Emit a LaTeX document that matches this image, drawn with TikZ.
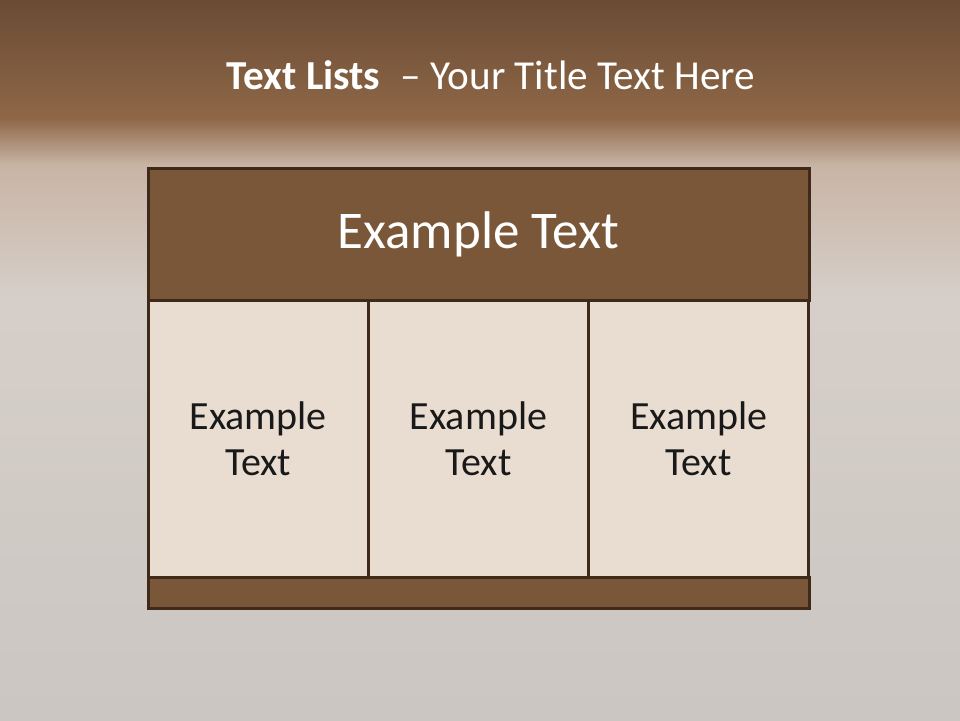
\documentclass[tikz,border=0pt]{standalone}
\usepackage{fontspec}
\setmainfont{Carlito}
\usepackage{tikz}
\usetikzlibrary{positioning}

\definecolor{bgtop}{HTML}{6A4B34}
\definecolor{bgband}{HTML}{8E6747}
\definecolor{bgfade}{HTML}{C8B4A5}
\definecolor{bgmid}{HTML}{D6CFC9}
\definecolor{bgbot}{HTML}{CBC6C2}
\definecolor{boxline}{HTML}{3F2A1A}
\definecolor{boxbrown}{HTML}{7A5739}
\definecolor{boxcream}{HTML}{E9DDD1}

\tikzset{
  panel/.style={draw=boxline, line width=3pt, inner sep=0pt, outer sep=0pt},
  headbox/.style={panel, fill=boxbrown, text=white, minimum width=661pt, minimum height=132pt},
  cellbox/.style={panel, fill=boxcream, text=black!90, minimum width=220.3pt, minimum height=277pt, align=center},
  footbox/.style={panel, fill=boxbrown, minimum width=661pt, minimum height=31pt}
}

\begin{document}
\begin{tikzpicture}[x=1pt,y=-1pt]
    \useasboundingbox (0,0) rectangle (960,720);

    % Background
    \shade[top color=bgtop, bottom color=bgband] (0,0) rectangle (960,118);
    \shade[top color=bgband, bottom color=bgfade] (0,118) rectangle (960,165);
    \shade[top color=bgfade, bottom color=bgmid] (0,165) rectangle (960,300);
    \shade[top color=bgmid, bottom color=bgbot] (0,300) rectangle (960,720);

    % Title
    \node[text=white, font=\fontsize{41.2}{48}\selectfont] (title) at (491,75)
        {\textbf{Text Lists}\enspace – Your Title Text Here};

    % Table
    \node[headbox, anchor=north west, font=\fontsize{53}{62}\selectfont] (header) at (148,168) {Example Text};
    \node[cellbox, anchor=north west, font=\fontsize{40}{46}\selectfont] (cellA) at (header.south west) {Example\\Text};
    \node[cellbox, right=0pt of cellA, font=\fontsize{40}{46}\selectfont] (cellB) {Example\\Text};
    \node[cellbox, right=0pt of cellB, font=\fontsize{40}{46}\selectfont] (cellC) {Example\\Text};
    \node[footbox, anchor=north west] (footer) at (cellA.south west) {};
\end{tikzpicture}
\end{document}
